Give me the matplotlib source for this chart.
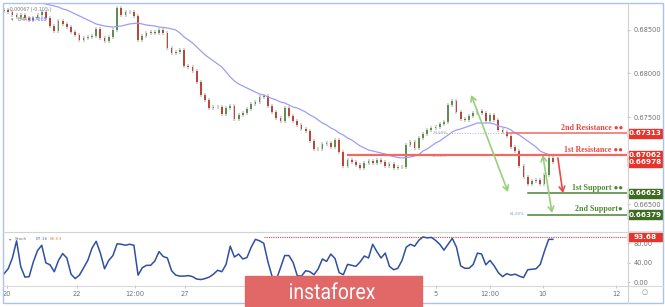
import numpy as np
import matplotlib
matplotlib.use('Agg')
import matplotlib.pyplot as plt
import matplotlib.transforms as mtransforms
from matplotlib.lines import Line2D
from matplotlib.patches import Rectangle, PathPatch
from matplotlib.textpath import TextPath
from matplotlib.font_manager import FontProperties

# hourly-ish candles, closes (open = previous close)
first_open = 0.68718
closes = [
    0.68730, 0.68707, 0.68672, 0.68649, 0.68672, 0.68638, 0.68615, 0.68638, 0.68672, 0.68707,
    0.68638, 0.68546, 0.68488, 0.68603, 0.68569, 0.68534, 0.68477, 0.68442, 0.68385, 0.68408,
    0.68419, 0.68431, 0.68511, 0.68408, 0.68374, 0.68419, 0.68500, 0.68753, 0.68672, 0.68707,
    0.68707, 0.68661, 0.68385, 0.68431, 0.68465, 0.68477, 0.68465, 0.68500, 0.68465, 0.68293,
    0.68236, 0.68247, 0.68270, 0.68086, 0.68075, 0.68029, 0.67902, 0.67753, 0.67695, 0.67603,
    0.67615, 0.67615, 0.67534, 0.67603, 0.67626, 0.67477, 0.67523, 0.67546, 0.67592, 0.67649,
    0.67672, 0.67730, 0.67741, 0.67626, 0.67557, 0.67488, 0.67454, 0.67603, 0.67511, 0.67454,
    0.67408, 0.67362, 0.67339, 0.67224, 0.67132, 0.67132, 0.67190, 0.67201, 0.67155, 0.67236,
    0.67098, 0.66937, 0.67006, 0.66983, 0.66948, 0.66914, 0.66971, 0.66994, 0.66971, 0.67006,
    0.66983, 0.66937, 0.66960, 0.66914, 0.66925, 0.66925, 0.67178, 0.67213, 0.67144, 0.67259,
    0.67305, 0.67351, 0.67374, 0.67385, 0.67420, 0.67443, 0.67638, 0.67684, 0.67557, 0.67477,
    0.67466, 0.67511, 0.67546, 0.67569, 0.67546, 0.67454, 0.67523, 0.67466, 0.67351, 0.67328,
    0.67282, 0.67155, 0.67109, 0.66937, 0.66810, 0.66730, 0.66764, 0.66776, 0.66730, 0.66833,
    0.67029, 0.66978,
]
ema = [
    0.68948, 0.68937, 0.68914, 0.68902, 0.68891, 0.68868, 0.68856, 0.68845, 0.68822, 0.68810,
    0.68799, 0.68787, 0.68776, 0.68764, 0.68741, 0.68730, 0.68707, 0.68684, 0.68661, 0.68638,
    0.68615, 0.68592, 0.68569, 0.68557, 0.68546, 0.68540, 0.68534, 0.68540, 0.68546, 0.68557,
    0.68569, 0.68575, 0.68580, 0.68569, 0.68557, 0.68552, 0.68546, 0.68534, 0.68529, 0.68523,
    0.68511, 0.68500, 0.68465, 0.68419, 0.68385, 0.68351, 0.68305, 0.68259, 0.68213, 0.68178,
    0.68144, 0.68109, 0.68075, 0.68017, 0.67960, 0.67914, 0.67879, 0.67856, 0.67833, 0.67810,
    0.67787, 0.67764, 0.67753, 0.67730, 0.67713, 0.67695, 0.67672, 0.67661, 0.67638, 0.67615,
    0.67603, 0.67580, 0.67557, 0.67523, 0.67500, 0.67466, 0.67431, 0.67408, 0.67374, 0.67351,
    0.67316, 0.67293, 0.67259, 0.67236, 0.67201, 0.67167, 0.67144, 0.67121, 0.67109, 0.67098,
    0.67086, 0.67075, 0.67057, 0.67046, 0.67034, 0.67029, 0.67034, 0.67040, 0.67052, 0.67069,
    0.67109, 0.67132, 0.67167, 0.67201, 0.67224, 0.67259, 0.67293, 0.67328, 0.67351, 0.67362,
    0.67379, 0.67397, 0.67414, 0.67431, 0.67431, 0.67431, 0.67431, 0.67420, 0.67397, 0.67385,
    0.67374, 0.67351, 0.67316, 0.67293, 0.67259, 0.67224, 0.67190, 0.67155, 0.67109, 0.67086,
    0.67069, 0.67063,
]
stoch = [
    18, 28, 50, 85, 32, 11, 12, 42, 65, 76,
    40, 36, 22, 45, 59, 50, 17, 8, 15, 30,
    45, 70, 84, 60, 28, 45, 55, 79, 78, 76,
    78, 76, 15, 30, 35, 35, 44, 63, 53, 50,
    24, 15, 13, 13, 14, 12, 7, 6, 8, 11,
    17, 25, 22, 37, 74, 52, 58, 48, 51, 72,
    88, 85, 80, 42, 12, 6, 30, 55, 55, 41,
    14, 13, 24, 22, 16, 28, 48, 43, 58, 49,
    20, 16, 37, 35, 33, 42, 54, 50, 78, 63,
    50, 60, 33, 26, 29, 45, 72, 78, 74, 86,
    93, 91, 92, 86, 78, 66, 78, 90, 72, 34,
    29, 29, 37, 60, 58, 36, 45, 34, 20, 12,
    18, 15, 17, 13, 10, 26, 27, 28, 37, 64,
    88, 88,
]

tick_pos = [0.7, 17.4, 31.3, 43.2, 103.1, 116.0, 128.6, 146.1]
tick_labels = ['20', '22', '12:00', '27', '5', '12:00', '10', '12']
price_ticks = [0.665, 0.675, 0.680, 0.685]
stoch_ticks = [0, 40, 80]

# name, price, first bar of the line, kind
levels = [
    ('2nd Resistance ●●', 0.67313, 120, 'res'),
    ('1st Resistance ●●', 0.67062, 82, 'res'),
    ('1st Support ●●', 0.66623, 125, 'sup'),
    ('2nd Support●', 0.66379, 125, 'sup'),
]
last_price = 0.66978
stoch_high = 93.68
stoch_high_from = 62

# (bar, price) start -> end, style
arrows = [
    ((111.5, 0.67753), (120.3, 0.66638), '<->', '#97d07a'),
    ((128.6, 0.67063), (130.8, 0.66397), '<->', '#97d07a'),
    ((132.2, 0.67029), (133.4, 0.66626), '->', '#e84a4a'),
]

RED = '#e8332a'
GREEN = '#3d6b21'
W, H = 665, 307


def px(x0, y0, x1, y1):
    return [x0 / W, 1 - y1 / H, (x1 - x0) / W, (y1 - y0) / H]


fig = plt.figure(figsize=(W / 100, H / 100), dpi=100)
fig.patch.set_facecolor('white')
ax = fig.add_axes(px(3, 3, 627, 231))
axs = fig.add_axes(px(3, 232, 627, 285))

xmin, xmax = -0.24, 148.7
for a in (ax, axs):
    a.set_xlim(xmin, xmax)
    for s in a.spines.values():
        s.set_visible(False)
    a.yaxis.tick_right()
    a.tick_params(axis='y', length=2, width=0.5, color='#aaaaaa',
                  labelsize=4.8, labelcolor='#707070', pad=3)

# candles
x = np.arange(len(closes))
c = np.array(closes)
o = np.r_[first_open, c[:-1]]
up = c >= o
pad = 0.00018
ax.vlines(x, np.minimum(o, c) - pad, np.maximum(o, c) + pad,
          color='#cfcfcf', lw=1.3, zorder=2)
ax.bar(x, np.maximum(np.abs(c - o), 0.00004), 0.42, bottom=np.minimum(o, c),
       color=np.where(up, '#5f8f4e', '#b9483b'), lw=0, zorder=3)
ax.plot(x, ema, color='#9d9df5', lw=0.9, zorder=4)

ax.set_ylim(0.66190, 0.68810)
ax.set_yticks(price_ticks)
ax.set_yticklabels(['%.5f' % v for v in price_ticks])
ax.tick_params(axis='x', length=0, labelbottom=False)

# support / resistance
for name, p, start, kind in levels:
    if kind == 'res':
        col, tcol = '#f06a63', '#e8453c'
        lw = 1.6 if start < 100 else 1.1
    else:
        col, tcol = '#4b8236', '#4b8a2e'
        lw = 1.1
    ax.plot([start, xmax], [p, p], color=col, lw=lw, zorder=5)
    ax.text(147.7, p + 0.00016, name, ha='right', va='bottom', fontsize=5.7,
            color=tcol, fontweight='bold', family=['Liberation Serif', 'DejaVu Sans'],
            zorder=6)

# fib marks
ax.plot([103, 120], [0.67313, 0.67313], color='#9fb4dd', lw=0.7, ls=':', zorder=4)
ax.text(104, 0.67313, '23.60%', fontsize=2.8, color='#8aa0c8', ha='center', va='center')
ax.text(104, 0.67052, '38.20%', fontsize=2.8, color='#8aa0c8', ha='center', va='center')
ax.text(122.4, 0.66385, '61.80%', fontsize=2.8, color='#8aa0c8', ha='center', va='center')

for (x0, y0), (x1, y1), style, col in arrows:
    ax.annotate('', xy=(x1, y1), xytext=(x0, y0),
                arrowprops=dict(arrowstyle=style + ',head_length=0.35,head_width=0.2',
                                color=col, lw=1.2, shrinkA=0, shrinkB=0), zorder=7)


def value_box(a, y, h, label, col):
    tr = mtransforms.blended_transform_factory(a.transAxes, a.transData)
    a.add_patch(Rectangle((1.0016, y - h / 2), 0.0545, h, transform=tr,
                          color=col, clip_on=False, zorder=10))
    a.text(1.0288, y, label, transform=tr, ha='center', va='center', color='white',
           fontsize=5.2, fontweight='bold', clip_on=False, zorder=11)


bh = 0.00104
value_box(ax, 0.67313, bh, '0.67313', RED)
value_box(ax, 0.67062, bh, '0.67062', RED)
value_box(ax, last_price, bh, '%.5f' % last_price, RED)
value_box(ax, 0.66623, bh, '0.66623', GREEN)
value_box(ax, 0.66379, bh, '0.66379', GREEN)

# legend bits
ax.text(0.008, 0.983, '-0.00067 (-0.10%)', transform=ax.transAxes, fontsize=3.4,
        color='#777777', va='top')
ax.text(0.013, 0.94, '▾', transform=ax.transAxes, fontsize=3.4, color='#777777', va='top')
ax.text(0.024, 0.94, 'EMA', transform=ax.transAxes, fontsize=3.4, color='#777777', va='top')
ax.text(0.040, 0.94, '0.67068', transform=ax.transAxes, fontsize=3.4, color='#5b6cf0', va='top')

# stochastic
axs.plot(x, stoch, color='#2f4f9f', lw=1.1, zorder=3)
axs.plot([stoch_high_from, xmax], [stoch_high, stoch_high], color='#f03c3c',
         lw=0.8, ls=(0, (1, 1)), zorder=2)
axs.set_ylim(-5.1, 103)
axs.set_yticks(stoch_ticks)
axs.set_yticklabels(['%.2f' % v for v in stoch_ticks])
axs.set_xticks(tick_pos)
axs.set_xticklabels(tick_labels)
axs.tick_params(axis='x', length=2, width=0.5, color='#aaaaaa', labelsize=4.8,
                labelcolor='#707070', pad=2)
value_box(axs, stoch_high, 19, '%.2f' % stoch_high, RED)
axs.text(0.010, 0.87, '▾', transform=axs.transAxes, fontsize=3.2, color='#777777', va='center')
axs.text(0.019, 0.87, 'Stoch', transform=axs.transAxes, fontsize=3.2, color='#777777', va='center')
axs.text(0.052, 0.87, '87.16', transform=axs.transAxes, fontsize=3.2, color='#5b6cf0', va='center')
axs.text(0.075, 0.87, '86.63', transform=axs.transAxes, fontsize=3.2, color='#f08a4b', va='center')

# frame and separators
def fline(xs, ys, col):
    fig.add_artist(Line2D([v / W for v in xs], [1 - v / H for v in ys],
                          transform=fig.transFigure, color=col, lw=0.8))


fline([3, 663], [231.5, 231.5], '#d2d2d2')
fline([3, 663], [285.5, 285.5], '#dadada')
fline([627.5, 627.5], [3, 303], '#d2d2d2')
fig.add_artist(Rectangle((3 / W, 1 - 303 / H), 660 / W, 300 / H, transform=fig.transFigure,
                         fill=False, edgecolor='#a9c4ec', lw=1))
fig.text(645 / W, 1 - 292 / H, '○', fontsize=5, color='#888888', ha='center', va='center')

# watermark
fig.add_artist(Rectangle((245 / W, 0), 177 / W, 31 / H, transform=fig.transFigure,
                         color='#e26767', zorder=20))
tp = TextPath((0, 0), 'instaforex', size=22, prop=FontProperties(family='Roboto'))
bb = tp.get_extents()
sx = 85 / bb.width
logo = PathPatch(tp, transform=mtransforms.Affine2D().scale(sx, 1).translate(290 - bb.x0 * sx, 8),
                 color='white', lw=0, zorder=21)
fig.add_artist(logo)

fig.savefig('out.png', dpi=100)
